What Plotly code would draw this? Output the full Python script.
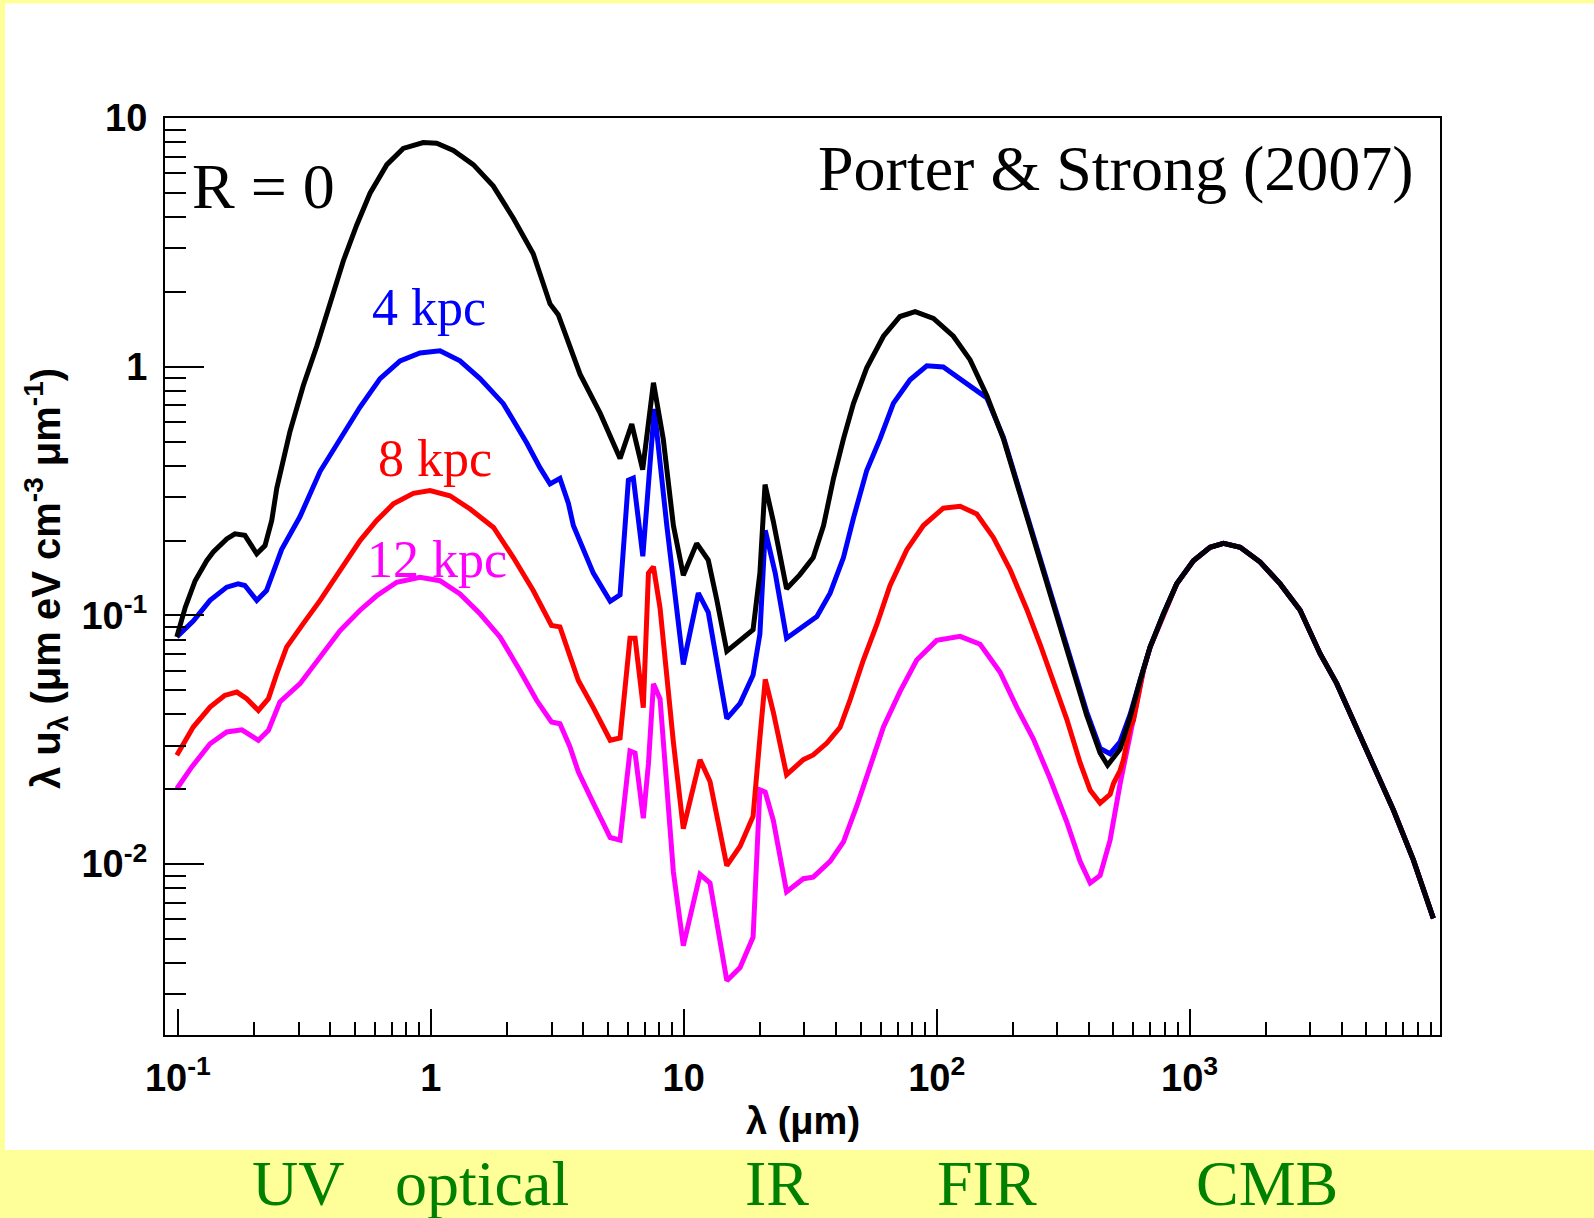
import plotly.graph_objects as go

# ---------------- data ----------------
lam_black = [0.099, 0.107, 0.117, 0.130, 0.138, 0.156, 0.168, 0.184, 0.205, 0.221, 0.235, 0.246,
             0.277, 0.313, 0.354, 0.399, 0.451, 0.509, 0.575, 0.67, 0.778, 0.933, 1.055, 1.228,
             1.472, 1.766, 2.12, 2.54, 2.96, 3.19, 3.66, 3.89, 4.67, 5.6, 6.23, 6.88, 7.59, 8.3,
             9.1, 9.96, 11.25, 12.5, 13.5, 14.8, 16.7, 18.8, 20.0, 20.96, 22.6, 25.5, 28.8, 32.5,
             35.7, 39.1, 42.8, 46.9, 52.9, 61.6, 71.6, 82.2, 97.1, 116.4, 135.6, 157.8, 183.6,
             213.6, 248.8, 289.2, 336.8, 391.8, 442.6, 474, 531, 582, 637]
u_black = [0.082, 0.108, 0.138, 0.166, 0.180, 0.203, 0.213, 0.210, 0.177, 0.191, 0.241, 0.325,
           0.546, 0.839, 1.21, 1.79, 2.67, 3.71, 4.99, 6.5, 7.55, 7.98, 7.93, 7.41,
           6.5, 5.33, 3.96, 2.85, 1.79, 1.62, 1.13, 0.934, 0.651, 0.428, 0.589, 0.386, 0.863, 0.512,
           0.23, 0.145, 0.195, 0.167, 0.116, 0.0718, 0.0794, 0.0877, 0.148, 0.336, 0.239, 0.128, 0.146, 0.171,
           0.23, 0.356, 0.513, 0.713, 0.991, 1.327, 1.593, 1.666, 1.564, 1.327, 1.066, 0.767, 0.513,
           0.308, 0.184, 0.11, 0.0662, 0.0397, 0.028, 0.025, 0.029, 0.039, 0.0548]

lam_blue = [0.099, 0.115, 0.134, 0.156, 0.173, 0.184, 0.205, 0.224, 0.257, 0.304, 0.365, 0.438,
            0.525, 0.63, 0.756, 0.906, 1.087, 1.304, 1.565, 1.935, 2.395, 2.7, 2.96, 3.24, 3.5,
            3.66, 4.39, 5.12, 5.6, 6.04, 6.32, 6.89, 7.25, 7.65, 8.57, 9.96, 11.42, 12.5, 14.8,
            16.7, 18.8, 20.0, 21.0, 23.0, 25.5, 29.7, 33.6, 37.9, 42.8, 46.9, 52.9, 59.7, 67.4,
            78.5, 91.4, 106.2, 127.6, 144, 157.8, 183.6, 213.6, 248.8, 289.2, 336.8, 391.8,
            442.6, 485, 531, 582, 637]
u_blue = [0.082, 0.095, 0.115, 0.130, 0.134, 0.132, 0.115, 0.126, 0.184, 0.250, 0.38, 0.511,
          0.689, 0.896, 1.057, 1.137, 1.159, 1.057, 0.896, 0.711, 0.494, 0.393, 0.338, 0.356, 0.282,
          0.23, 0.148, 0.114, 0.121, 0.35, 0.357, 0.173, 0.357, 0.677, 0.23, 0.0636, 0.123, 0.103, 0.0385,
          0.0443, 0.0576, 0.0842, 0.22, 0.148, 0.081, 0.0912, 0.099, 0.123, 0.171, 0.247, 0.383, 0.513, 0.713,
          0.887, 1.009, 0.998, 0.872, 0.796, 0.75, 0.52, 0.315, 0.188, 0.113, 0.068, 0.041,
          0.0292, 0.0278, 0.031, 0.040, 0.0548]

lam_red = [0.099, 0.115, 0.134, 0.153, 0.171, 0.187, 0.208, 0.228, 0.246, 0.269, 0.313, 0.365,
           0.438, 0.525, 0.611, 0.711, 0.853, 0.993, 1.19, 1.43, 1.77, 2.12, 2.54, 3.0, 3.24,
           3.55, 3.83, 4.39, 5.12, 5.6, 6.13, 6.42, 6.92, 7.25, 7.59, 8.06, 9.1, 9.96, 11.6,
           12.7, 14.8, 16.7, 18.8, 20.0, 21.0, 22.6, 25.5, 29.7, 32.5, 36.8, 41.5, 45.5, 51.3,
           58, 65.4, 76.2, 88.6, 106.2, 123.8, 144, 167.5, 195, 227, 256.4, 289.2, 326.7, 369,
           404.6, 442.6, 485, 500, 531, 547, 582, 600, 656]
u_red = [0.0274, 0.0356, 0.0428, 0.0477, 0.0492, 0.0463, 0.0415, 0.0463, 0.0583, 0.0746, 0.0927, 0.115,
         0.152, 0.2, 0.241, 0.281, 0.31, 0.318, 0.303, 0.268, 0.226, 0.171, 0.126, 0.0912, 0.0900,
         0.068, 0.0548, 0.0426, 0.0315, 0.0322, 0.081, 0.081, 0.0426, 0.148, 0.157, 0.107, 0.0309, 0.0139, 0.0263,
         0.0215, 0.00986, 0.0118, 0.0156, 0.0322, 0.0553, 0.0409, 0.0229, 0.0263, 0.0275, 0.0307, 0.0355, 0.0459, 0.0662,
         0.092, 0.132, 0.184, 0.23, 0.27, 0.275, 0.256, 0.206, 0.153, 0.106, 0.0766, 0.0551, 0.0383, 0.0256,
         0.0198, 0.0176, 0.0191, 0.0211, 0.0238, 0.0262, 0.0356, 0.0379, 0.060]

lam_mag = [0.099, 0.1135, 0.134, 0.156, 0.179, 0.19, 0.208, 0.228, 0.253, 0.304, 0.365, 0.438,
           0.525, 0.611, 0.733, 0.906, 1.087, 1.304, 1.565, 1.88, 2.25, 2.62, 3.0, 3.24, 3.55,
           3.83, 4.39, 5.12, 5.6, 6.13, 6.42, 6.92, 7.25, 7.59, 8.06, 9.1, 9.96, 11.6, 12.7,
           14.8, 16.7, 18.8, 20.0, 21.0, 22.6, 25.5, 29.7, 32.5, 37.9, 42.8, 48.3, 54.6, 61.6,
           71.6, 83.4, 100, 123.8, 148.5, 178, 207.5, 241, 280.7, 326.7, 369, 404.6, 442.6,
           485, 531, 582, 618, 656]
u_mag = [0.0201, 0.0246, 0.0305, 0.034, 0.0347, 0.0335, 0.0315, 0.0345, 0.0449, 0.0532, 0.068, 0.087,
         0.105, 0.12, 0.136, 0.1425, 0.138, 0.122, 0.1016, 0.0818, 0.0601, 0.0456, 0.0373, 0.0367, 0.0296,
         0.0235, 0.0176, 0.0128, 0.0125, 0.0285, 0.028, 0.0153, 0.0253, 0.0531, 0.0462, 0.0093, 0.0047, 0.0091, 0.0084,
         0.0034, 0.00384, 0.00508, 0.0199, 0.0195, 0.015, 0.00774, 0.00874, 0.00887, 0.01026, 0.0123, 0.0171, 0.0247, 0.0356,
         0.0494, 0.0662, 0.0794, 0.0824, 0.0766, 0.0593, 0.0427, 0.0319, 0.0221, 0.0148, 0.01026, 0.0084, 0.0090,
         0.0125, 0.021, 0.034, 0.046, 0.060]

# common CMB-dominated tail shared by all four curves
lam_cmb = [698, 788, 889, 1035, 1205, 1361, 1585, 1901, 2281, 2735, 3280, 3819, 4446, 5331,
           6393, 7667, 9197]
u_cmb = [0.0746, 0.1016, 0.134, 0.166, 0.188, 0.195, 0.188, 0.164, 0.134, 0.105, 0.0702, 0.0532,
         0.0379, 0.0254, 0.0165, 0.0104, 0.00605]

x_tickvals = [0.1, 1, 10, 100, 1000]
x_ticktext = ["10<sup>-1</sup>", "1", "10", "10<sup>2</sup>", "10<sup>3</sup>"]
y_tickvals = [0.01, 0.1, 1, 10]
y_ticktext = ["10<sup>-2</sup>", "10<sup>-1</sup>", "1", "10"]

band_labels = ["UV", "optical", "IR", "FIR", "CMB"]
band_centers_px = [298, 482, 777, 987, 1267]

series = [
    ("12 kpc", lam_mag, u_mag, "#FF00FF"),
    ("8 kpc", lam_red, u_red, "#FF0000"),
    ("4 kpc", lam_blue, u_blue, "#0000FF"),
    ("R = 0", lam_black, u_black, "#000000"),
]

# ---------------- layout geometry (pixels) ----------------
W, H = 1594, 1218
L, R, T, B = 165, 1440, 118, 1035


def px(x):
    return (x - L) / (R - L)


def py(y):
    return (B - y) / (B - T)


fig = go.Figure()
for name, lx, uy, col in series:
    fig.add_trace(go.Scatter(x=lx + lam_cmb, y=uy + u_cmb, mode="lines", name=name,
                             line=dict(color=col, width=5), showlegend=False,
                             hoverinfo="skip"))

minor_x = [k * 10 ** e for e in range(-1, 4) for k in range(2, 10)]
minor_y = [k * 10 ** e for e in range(-3, 1) for k in range(2, 10)]

tickfont = dict(family="Liberation Sans, Arial, sans-serif", size=38, color="black", weight="bold")

fig.update_xaxes(type="log", range=[-1.051, 3.990], showgrid=False, zeroline=False,
                 showline=True, linecolor="black", linewidth=2, mirror=True,
                 ticks="inside", ticklen=26, tickwidth=2, tickcolor="black",
                 tickmode="array", tickvals=x_tickvals, ticktext=x_ticktext,
                 tickfont=tickfont, ticklabelstandoff=8,
                 minor=dict(ticks="inside", ticklen=13, tickwidth=2, tickcolor="black",
                            tickmode="array", tickvals=minor_x, showgrid=False))
fig.update_yaxes(type="log", range=[-2.687, 1.0005], showgrid=False, zeroline=False,
                 showline=True, linecolor="black", linewidth=2, mirror=True,
                 ticks="inside", ticklen=39, tickwidth=2, tickcolor="black",
                 tickmode="array", tickvals=y_tickvals, ticktext=y_ticktext,
                 tickfont=tickfont, ticklabelstandoff=8,
                 minor=dict(ticks="inside", ticklen=21, tickwidth=2, tickcolor="black",
                            tickmode="array", tickvals=minor_y, showgrid=False))

yellow = "#FFFF99"
shapes = [
    dict(type="rect", xref="paper", yref="paper", x0=px(0), x1=px(W), y0=py(3.5), y1=py(0),
         fillcolor=yellow, line=dict(width=0), layer="below"),
    dict(type="rect", xref="paper", yref="paper", x0=px(0), x1=px(5), y0=py(H), y1=py(0),
         fillcolor=yellow, line=dict(width=0), layer="below"),
    dict(type="rect", xref="paper", yref="paper", x0=px(0), x1=px(W), y0=py(H), y1=py(1150),
         fillcolor=yellow, line=dict(width=0), layer="below"),
]

serif = "Liberation Serif, Times New Roman, serif"
sans = "Liberation Sans, Arial, sans-serif"
ann = [
    dict(text="R = 0", x=px(190), y=py(186.5), xanchor="left", yanchor="middle",
         font=dict(family=serif, size=64, color="black")),
    dict(text="Porter & Strong (2007)", x=px(1416), y=py(169), xanchor="right", yanchor="middle",
         font=dict(family=serif, size=64, color="black")),
    dict(text="4 kpc", x=px(370), y=py(307.5), xanchor="left", yanchor="middle",
         font=dict(family=serif, size=52, color="#0000FF")),
    dict(text="8 kpc", x=px(376), y=py(458.5), xanchor="left", yanchor="middle",
         font=dict(family=serif, size=52, color="#FF0000")),
    dict(text="12 kpc", x=px(365), y=py(559.5), xanchor="left", yanchor="middle",
         font=dict(family=serif, size=52, color="#FF00FF")),
    dict(text="λ (μm)", x=px(803), y=py(1121), xanchor="center", yanchor="middle",
         font=dict(family=sans, size=38, color="black", weight="bold")),
    dict(text="λ u<sub>λ</sub> (μm eV cm<sup>-3</sup> μm<sup>-1</sup>)", x=px(46), y=py(579),
         xanchor="center", yanchor="middle", textangle=-90,
         font=dict(family=sans, size=40, color="black", weight="bold")),
]
for lab, cx in zip(band_labels, band_centers_px):
    ann.append(dict(text=lab, x=px(cx), y=py(1183), xanchor="center", yanchor="middle",
                    font=dict(family=serif, size=64, color="#008000")))
for a in ann:
    a.update(xref="paper", yref="paper", showarrow=False)

fig.update_layout(width=W, height=H, margin=dict(l=L, r=W - R, t=T, b=H - B, pad=0),
                  paper_bgcolor="white", plot_bgcolor="white",
                  shapes=shapes, annotations=ann, showlegend=False)

fig.write_html("out.html")
